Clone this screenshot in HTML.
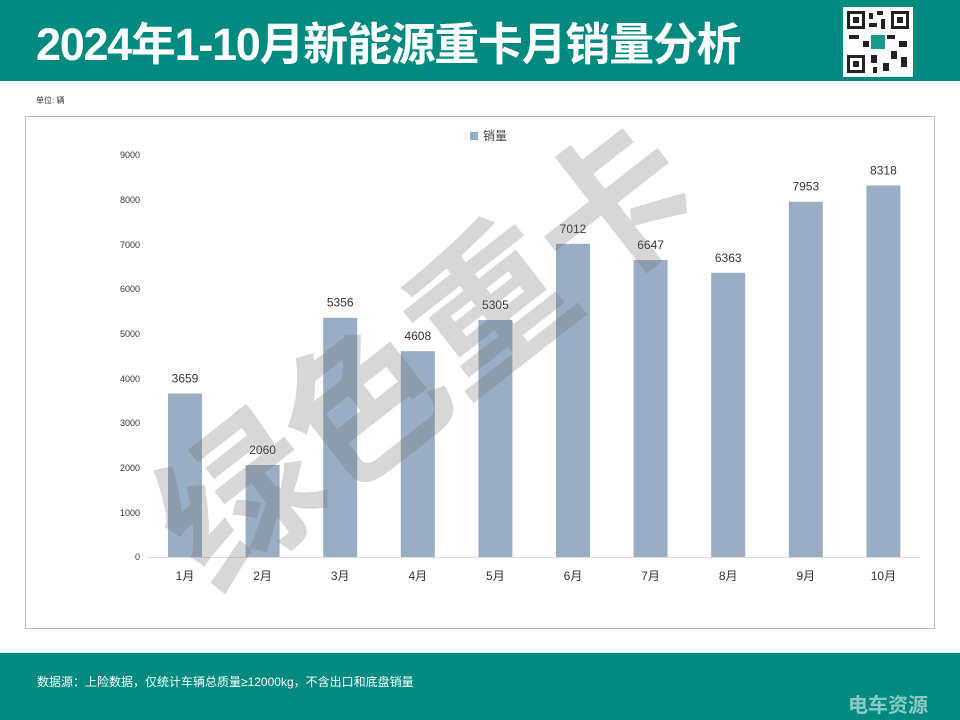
<!DOCTYPE html>
<html><head><meta charset="utf-8"><style>
body{margin:0;width:960px;height:720px;position:relative;background:#fff;font-family:"Liberation Sans","Noto Sans CJK SC",sans-serif;overflow:hidden}
.hdr{position:absolute;left:0;top:0;width:960px;height:81px;background:#018a80}
.title{position:absolute;left:36px;top:18px;color:#fff;font-size:45px;font-weight:bold;letter-spacing:-1.3px;line-height:54px}
.qr{position:absolute;left:843px;top:7px;width:70px;height:70px;background:#fff}
.ftr{position:absolute;left:0;top:653px;width:960px;height:67px;background:#018a80}
</style></head><body>
<div class="hdr"><div class="title">2024年1-10月新能源重卡月销量分析</div>
<div class="qr"><svg width="70" height="70"><g fill="#222">
<rect x="4" y="4" width="18" height="18"/><rect x="48" y="4" width="18" height="18"/><rect x="4" y="48" width="18" height="18"/>
<rect x="26" y="6" width="4" height="6"/><rect x="34" y="4" width="6" height="4"/><rect x="26" y="16" width="8" height="4"/><rect x="38" y="12" width="4" height="10"/>
<rect x="6" y="28" width="10" height="4"/><rect x="20" y="34" width="6" height="6"/><rect x="44" y="28" width="8" height="4"/><rect x="56" y="34" width="8" height="6"/>
<rect x="48" y="44" width="6" height="8"/><rect x="58" y="50" width="6" height="10"/><rect x="28" y="48" width="6" height="8"/><rect x="40" y="56" width="6" height="8"/><rect x="30" y="60" width="4" height="6"/></g>
<g fill="#fff"><rect x="7" y="7" width="12" height="12"/><rect x="51" y="7" width="12" height="12"/><rect x="7" y="51" width="12" height="12"/></g>
<g fill="#222"><rect x="10" y="10" width="6" height="6"/><rect x="54" y="10" width="6" height="6"/><rect x="10" y="54" width="6" height="6"/></g>
<rect x="28" y="28" width="14" height="14" fill="#1a9a8a"/></svg></div></div>
<div style="position:absolute;left:36px;top:95px;font-size:8px;color:#333">单位: 辆</div>
<div style="position:absolute;left:25px;top:116px;width:908px;height:511px;border:1px solid #bbb"></div>
<svg style="position:absolute;left:0;top:0" width="960" height="720">
<g font-size="9" fill="#333" text-anchor="end" font-family="Liberation Sans">
<text x="140" y="560">0</text><text x="140" y="516">1000</text><text x="140" y="471">2000</text><text x="140" y="426">3000</text><text x="140" y="382">4000</text><text x="140" y="337">5000</text><text x="140" y="292">6000</text><text x="140" y="248">7000</text><text x="140" y="203">8000</text><text x="140" y="158">9000</text></g>
<line x1="148" y1="557.5" x2="920" y2="557.5" stroke="#ddd"/>
<rect x="470" y="132" width="8" height="8" fill="#99aec4"/><text x="483" y="140" font-size="12" fill="#444">销量</text>
<g fill="#99aec4" id="bars"></g>
<g id="labs" font-size="12" fill="#333" text-anchor="middle" font-family="Liberation Sans, Noto Sans CJK SC, sans-serif"></g>
<text transform="translate(462,400) rotate(-38)" text-anchor="middle" font-size="158" font-weight="bold" fill="rgba(110,110,110,0.28)" font-family="Noto Sans CJK SC, sans-serif">绿色重卡</text>
</svg>
<div class="ftr"><div style="position:absolute;left:37px;top:20px;color:#fff;font-size:12px">数据源：上险数据，仅统计车辆总质量≥12000kg，不含出口和底盘销量</div>
<div style="position:absolute;left:848px;top:36px;color:rgba(255,255,255,0.55);font-size:20px;font-weight:bold">电车资源</div></div>
<script>
var v=[3659,2060,5356,4608,5305,7012,6647,6363,7953,8318],b='',l='';
v.forEach(function(x,i){var c=185+77.6*i,h=x*0.04467,t=557-h;
b+='<rect x="'+(c-17)+'" y="'+t+'" width="34" height="'+h+'"/>';
l+='<text x="'+c+'" y="'+(t-11)+'">'+x+'</text><text x="'+c+'" y="580">'+(i+1)+'月</text>';});
document.getElementById('bars').innerHTML=b;document.getElementById('labs').innerHTML=l;
</script>
</body></html>
